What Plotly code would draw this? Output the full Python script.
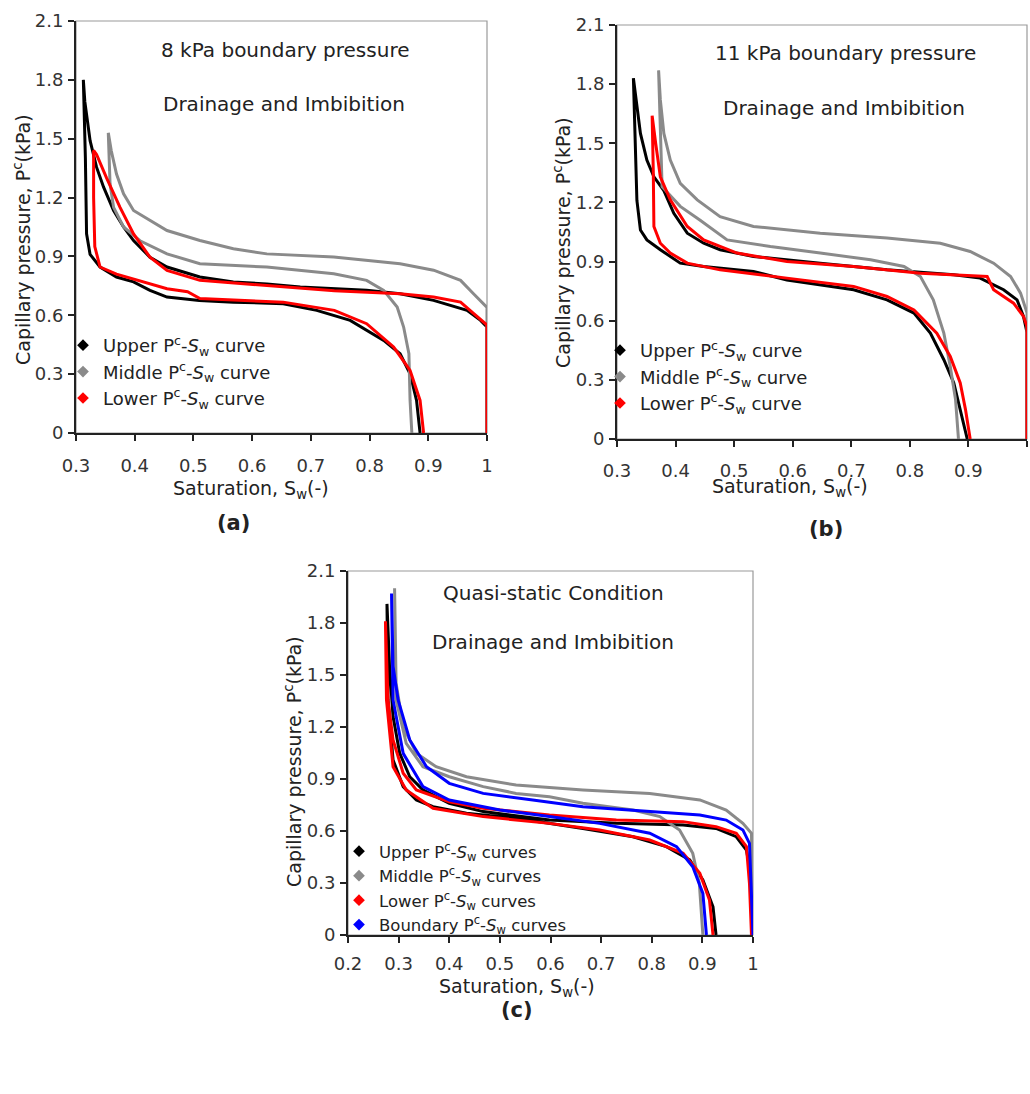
import plotly.graph_objects as go

W, H = 1030, 1094

# ---------------- data (Sw, Pc in kPa), each loop: drainage from Sw=1 upward, then imbibition down ----------------
# (a) 8 kPa boundary pressure
A_UPPER_SW = [1.0, 1.0, 0.989, 0.966, 0.909, 0.852, 0.795, 0.739, 0.682, 0.625, 0.568, 0.511, 0.483, 0.455, 0.426,
              0.409, 0.398, 0.381, 0.364, 0.347, 0.335, 0.324, 0.315, 0.3125,
              0.316, 0.318, 0.324, 0.341, 0.369, 0.398, 0.426, 0.455, 0.51, 0.568, 0.653, 0.71, 0.767, 0.824, 0.852,
              0.869, 0.88, 0.886]
A_UPPER_PC = [0.0, 0.54, 0.574, 0.625, 0.676, 0.71, 0.727, 0.735, 0.744, 0.76, 0.77, 0.795, 0.82, 0.846, 0.896,
              0.947, 0.981, 1.05, 1.134, 1.253, 1.355, 1.49, 1.69, 1.8,
              1.4, 1.015, 0.91, 0.846, 0.795, 0.77, 0.727, 0.693, 0.676, 0.667, 0.659, 0.625, 0.574, 0.472, 0.404,
              0.302, 0.166, 0.0]
A_MIDDLE_SW = [1.0, 1.0, 0.977, 0.955, 0.909, 0.852, 0.739, 0.625, 0.568, 0.511, 0.455, 0.426, 0.398, 0.381, 0.369,
               0.36, 0.355,
               0.358, 0.364, 0.381, 0.409, 0.455, 0.511, 0.625, 0.739, 0.795, 0.824, 0.847, 0.858, 0.867, 0.869, 0.872]
A_MIDDLE_PC = [0.0, 0.64, 0.71, 0.778, 0.83, 0.863, 0.897, 0.913, 0.939, 0.981, 1.032, 1.083, 1.134, 1.219, 1.32,
               1.44, 1.53,
               1.27, 1.15, 1.05, 0.98, 0.913, 0.863, 0.846, 0.812, 0.778, 0.727, 0.642, 0.54, 0.404, 0.166, 0.0]
A_LOWER_SW = [1.0, 1.0, 0.977, 0.955, 0.909, 0.852, 0.74, 0.625, 0.511, 0.455, 0.426, 0.398, 0.375, 0.352, 0.335, 0.33,
              0.33, 0.332, 0.341, 0.369, 0.398, 0.455, 0.49, 0.511, 0.653, 0.74, 0.795, 0.841, 0.869, 0.886, 0.892]
A_LOWER_PC = [0.0, 0.55, 0.61, 0.667, 0.693, 0.71, 0.725, 0.752, 0.778, 0.829, 0.896, 1.015, 1.15, 1.30, 1.42, 1.44,
              1.2, 0.95, 0.846, 0.81, 0.785, 0.735, 0.72, 0.685, 0.667, 0.625, 0.557, 0.438, 0.319, 0.166, 0.0]

# (b) 11 kPa boundary pressure
B_UPPER_SW = [1.0, 1.0, 0.994, 0.983, 0.96, 0.92, 0.875, 0.761, 0.647, 0.533, 0.476, 0.448, 0.42, 0.397, 0.38, 0.363,
              0.351, 0.34, 0.328,
              0.331, 0.334, 0.34, 0.351, 0.374, 0.408, 0.448, 0.533, 0.59, 0.647, 0.704, 0.761, 0.807, 0.835, 0.858,
              0.875, 0.886, 0.898]
B_UPPER_PC = [0.0, 0.54, 0.622, 0.706, 0.757, 0.816, 0.833, 0.858, 0.892, 0.926, 0.96, 0.993, 1.044, 1.145, 1.26, 1.33,
              1.415, 1.55, 1.83,
              1.47, 1.21, 1.06, 1.01, 0.96, 0.892, 0.875, 0.85, 0.807, 0.782, 0.757, 0.706, 0.639, 0.537, 0.402,
              0.284, 0.149, 0.0]
B_MIDDLE_SW = [1.0, 1.0, 0.989, 0.972, 0.943, 0.903, 0.852, 0.761, 0.647, 0.533, 0.476, 0.437, 0.408, 0.391, 0.38,
               0.374, 0.371,
               0.377, 0.408, 0.442, 0.488, 0.562, 0.647, 0.733, 0.79, 0.818, 0.84, 0.858, 0.869, 0.878, 0.883]
B_MIDDLE_PC = [0.0, 0.64, 0.74, 0.824, 0.892, 0.951, 0.993, 1.019, 1.044, 1.078, 1.128, 1.213, 1.297, 1.415, 1.55,
               1.72, 1.87,
               1.28, 1.18, 1.11, 1.01, 0.976, 0.943, 0.909, 0.875, 0.824, 0.706, 0.537, 0.368, 0.2, 0.0]
B_LOWER_SW = [1.0, 1.0, 0.994, 0.977, 0.943, 0.932, 0.818, 0.704, 0.59, 0.505, 0.448, 0.42, 0.391, 0.374, 0.366, 0.36,
              0.362, 0.363, 0.374, 0.391, 0.42, 0.476, 0.59, 0.704, 0.761, 0.807, 0.846, 0.869, 0.886, 0.895, 0.903]
B_LOWER_PC = [0.0, 0.57, 0.622, 0.689, 0.757, 0.824, 0.841, 0.875, 0.9, 0.943, 1.01, 1.078, 1.213, 1.33, 1.5, 1.64,
              1.35, 1.078, 0.993, 0.943, 0.892, 0.858, 0.816, 0.774, 0.723, 0.655, 0.537, 0.419, 0.284, 0.149, 0.0]

# (c) quasi-static condition
C_UPPER_SW = [1.0, 0.993, 0.987, 0.967, 0.927, 0.862, 0.73, 0.598, 0.467, 0.4, 0.348, 0.322, 0.302, 0.289, 0.282, 0.277,
              0.279, 0.289, 0.309, 0.335, 0.368, 0.434, 0.532, 0.664, 0.763, 0.829, 0.875, 0.901, 0.921, 0.927]
C_UPPER_PC = [0.0, 0.394, 0.49, 0.567, 0.615, 0.635, 0.644, 0.663, 0.712, 0.76, 0.837, 0.913, 1.05, 1.26, 1.55, 1.91,
              1.356, 1.01, 0.856, 0.779, 0.74, 0.702, 0.673, 0.615, 0.567, 0.51, 0.433, 0.317, 0.163, 0.0]
C_MIDDLE_SW = [1.0, 0.997, 0.98, 0.947, 0.895, 0.796, 0.664, 0.532, 0.434, 0.374, 0.335, 0.309, 0.295, 0.292,
               0.295, 0.315, 0.348, 0.4, 0.467, 0.532, 0.598, 0.664, 0.763, 0.816, 0.855, 0.881, 0.894, 0.901]
C_MIDDLE_PC = [0.0, 0.587, 0.644, 0.721, 0.779, 0.817, 0.837, 0.865, 0.913, 0.971, 1.048, 1.202, 1.452, 2.0,
               1.356, 1.106, 0.971, 0.913, 0.856, 0.817, 0.798, 0.76, 0.721, 0.683, 0.606, 0.471, 0.298, 0.0]
C_LOWER_SW = [0.997, 0.993, 0.987, 0.967, 0.927, 0.862, 0.73, 0.598, 0.467, 0.4, 0.335, 0.309, 0.289, 0.279, 0.274,
              0.276, 0.289, 0.315, 0.368, 0.467, 0.598, 0.697, 0.796, 0.862, 0.895, 0.914, 0.921]
C_LOWER_PC = [0.0, 0.298, 0.51, 0.587, 0.625, 0.654, 0.663, 0.692, 0.731, 0.769, 0.837, 0.933, 1.125, 1.356, 1.81,
              1.356, 0.971, 0.837, 0.731, 0.683, 0.644, 0.606, 0.548, 0.471, 0.356, 0.202, 0.0]
C_BOUNDARY_SW = [1.0, 0.993, 0.98, 0.947, 0.895, 0.796, 0.664, 0.565, 0.467, 0.4, 0.355, 0.322, 0.299, 0.289, 0.286,
                 0.289, 0.309, 0.348, 0.4, 0.5, 0.598, 0.697, 0.796, 0.849, 0.881, 0.901, 0.908]
C_BOUNDARY_PC = [0.0, 0.529, 0.606, 0.663, 0.692, 0.712, 0.74, 0.779, 0.817, 0.875, 0.971, 1.125, 1.356, 1.55, 1.97,
                 1.356, 1.048, 0.856, 0.779, 0.721, 0.683, 0.644, 0.587, 0.51, 0.394, 0.24, 0.0]

Y_TICKS = [0, 0.3, 0.6, 0.9, 1.2, 1.5, 1.8, 2.1]

# ---------------- styling ----------------
FONT = "DejaVu Sans"
TXT = "#222222"
COL_UPPER = "#000000"
COL_MIDDLE = "#8a8a8a"
COL_LOWER = "#ff0000"
COL_BOUND = "#0000ff"


def xd(l, r):
    return [l / W, r / W]


def yd(t, b):
    return [1 - b / H, 1 - t / H]


def px(x):
    return x / W


def py(y):
    return 1 - y / H


fig = go.Figure()

panels = [
    dict(xa="x", ya="y", leg="legend", xdom=xd(76, 487), ydom=yd(21, 433), xr=[0.3, 1.0], stand=9,
         curves=[("Upper", A_UPPER_SW, A_UPPER_PC, COL_UPPER),
                 ("Middle", A_MIDDLE_SW, A_MIDDLE_PC, COL_MIDDLE),
                 ("Lower", A_LOWER_SW, A_LOWER_PC, COL_LOWER)], suffix="curve"),
    dict(xa="x2", ya="y2", leg="legend2", xdom=xd(617, 1027), ydom=yd(25, 439), xr=[0.3, 1.0], stand=8,
         curves=[("Upper", B_UPPER_SW, B_UPPER_PC, COL_UPPER),
                 ("Middle", B_MIDDLE_SW, B_MIDDLE_PC, COL_MIDDLE),
                 ("Lower", B_LOWER_SW, B_LOWER_PC, COL_LOWER)], suffix="curve"),
    dict(xa="x3", ya="y3", leg="legend3", xdom=xd(348, 753), ydom=yd(571, 935), xr=[0.2, 1.0], stand=5,
         curves=[("Upper", C_UPPER_SW, C_UPPER_PC, COL_UPPER),
                 ("Middle", C_MIDDLE_SW, C_MIDDLE_PC, COL_MIDDLE),
                 ("Lower", C_LOWER_SW, C_LOWER_PC, COL_LOWER),
                 ("Boundary", C_BOUNDARY_SW, C_BOUNDARY_PC, COL_BOUND)], suffix="curves"),
]

for p in panels:
    for name, sw, pc, col in p["curves"]:
        fig.add_trace(go.Scatter(x=sw, y=pc, mode="lines", xaxis=p["xa"], yaxis=p["ya"],
                                 line=dict(color=col, width=3), showlegend=False, hoverinfo="skip"))
    for name, sw, pc, col in p["curves"]:
        fig.add_trace(go.Scatter(x=[None], y=[None], mode="markers", xaxis=p["xa"], yaxis=p["ya"],
                                 marker=dict(symbol="diamond", size=9, color=col),
                                 name=f"{name} P<sup>c</sup>-<i>S</i><sub>w</sub> {p['suffix']}",
                                 legend=p["leg"], showlegend=True))

axis_common = dict(showline=True, linecolor="#222222", linewidth=2, ticks="outside", ticklen=6, tickwidth=1.5,
                   tickcolor="#222222", showgrid=False, zeroline=False, automargin=False,
                   tickfont=dict(family=FONT, size=18, color="#333333"))

layout = dict(template="none", width=W, height=H, margin=dict(l=0, r=0, t=0, b=0, pad=0),
              paper_bgcolor="white", plot_bgcolor="white", showlegend=True)
for i, p in enumerate(panels):
    sfx = "" if i == 0 else str(i + 1)
    layout["xaxis" + sfx] = dict(domain=p["xdom"], anchor=p["ya"], range=p["xr"], tick0=p["xr"][0], dtick=0.1,
                                 ticklabelstandoff=p["stand"], **axis_common)
    layout["yaxis" + sfx] = dict(domain=p["ydom"], anchor=p["xa"], range=[0, 2.1], tickvals=Y_TICKS,
                                 ticktext=[f"{v:g}" for v in Y_TICKS], ticklabelstandoff=1, **axis_common)
fig.update_layout(**layout)

# legends
leg_common = dict(bgcolor="rgba(0,0,0,0)", borderwidth=0, itemwidth=30, xanchor="left", yanchor="top",
                  tracegroupgap=0)
fig.update_layout(
    legend=dict(x=px(63), y=py(327), font=dict(family=FONT, size=18, color=TXT), **leg_common),
    legend2=dict(x=px(600), y=py(332), font=dict(family=FONT, size=18, color=TXT), **leg_common),
    legend3=dict(x=px(339), y=py(834), font=dict(family=FONT, size=16.5, color=TXT), **leg_common),
)

# frames (grey top/right borders)
for p in panels:
    fig.add_shape(type="rect", xref=p["xa"] + " domain", yref=p["ya"] + " domain", x0=0, x1=1, y0=0, y1=1,
                  line=dict(color="#9a9a9a", width=1.2), layer="below")

ann = []


def txt(x, y, s, size=20, angle=0, bold=False):
    ann.append(dict(x=px(x), y=py(y), xref="paper", yref="paper", text=f"<b>{s}</b>" if bold else s,
                    showarrow=False, textangle=angle, xanchor="center", yanchor="middle",
                    font=dict(family=FONT, size=size, color=TXT)))


txt(285, 50, "8 kPa boundary pressure")
txt(284, 104, "Drainage and Imbibition")
txt(845, 53, "11 kPa boundary pressure")
txt(844, 108, "Drainage and Imbibition")
txt(553, 593, "Quasi-static Condition")
txt(553, 642, "Drainage and Imbibition")

ytitle = "Capillary pressure, P<sup>c</sup>(kPa)"
xtitle = "Saturation, S<sub>w</sub>(-)"
txt(22, 240, ytitle, size=19, angle=-90)
txt(562, 243, ytitle, size=19, angle=-90)
txt(293, 762, ytitle, size=19, angle=-90)
txt(251, 489, xtitle, size=19)
txt(790, 488, xtitle, size=19)
txt(517, 987, xtitle, size=19)
txt(233, 523, "(a)", size=21, bold=True)
txt(826, 529, "(b)", size=21, bold=True)
txt(517, 1010, "(c)", size=21, bold=True)

fig.update_layout(annotations=ann)

fig.write_html("out.html")
